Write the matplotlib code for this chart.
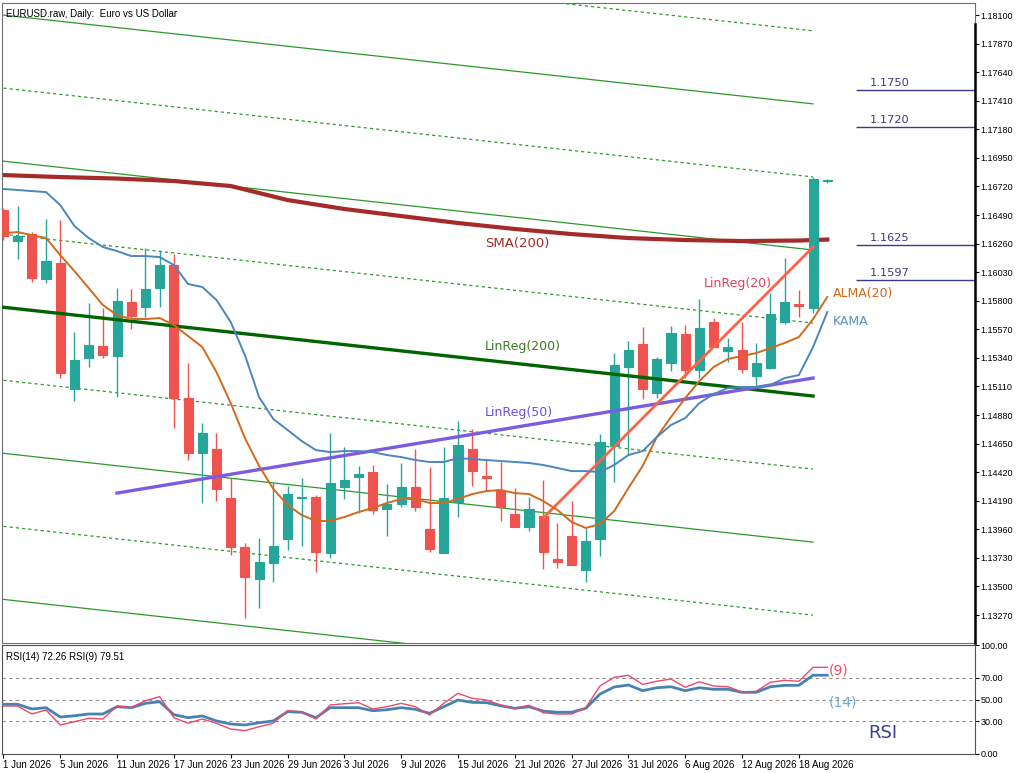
import matplotlib
matplotlib.use('Agg')
import matplotlib.pyplot as plt
import numpy as np

# 日线 OHLC (1 Jun 2026 - 20 Aug 2026)
opens = [1.16531, 1.16281, 1.16337, 1.15975, 1.16104, 1.15090, 1.15339, 1.15436, 1.15355, 1.15790,
         1.15750, 1.15903, 1.16088, 1.15017, 1.14574, 1.14607, 1.14212, 1.13818, 1.13560, 1.13689,
         1.13882, 1.14212, 1.14220, 1.13769, 1.14301, 1.14381, 1.14421, 1.14124, 1.14164, 1.14301,
         1.13963, 1.13769, 1.14180, 1.14607, 1.14389, 1.14277, 1.14083, 1.13979, 1.14067, 1.13721,
         1.13906, 1.13633, 1.13882, 1.14631, 1.15267, 1.15452, 1.15057, 1.15299, 1.15532, 1.15243,
         1.15629, 1.15395, 1.15404, 1.15194, 1.15259, 1.15629, 1.15774, 1.15742, 1.16764]
highs = [1.16547, 1.16563, 1.16353, 1.16458, 1.16450, 1.15548, 1.15782, 1.15742, 1.15903, 1.15895,
         1.16225, 1.16200, 1.16176, 1.15299, 1.14816, 1.14735, 1.14373, 1.13850, 1.13890, 1.14341,
         1.14309, 1.14373, 1.14236, 1.14735, 1.14623, 1.14470, 1.14478, 1.14325, 1.14494, 1.14607,
         1.14462, 1.14623, 1.14832, 1.14768, 1.14526, 1.14502, 1.14293, 1.14220, 1.14357, 1.14011,
         1.14188, 1.13971, 1.14727, 1.15379, 1.15476, 1.15589, 1.15347, 1.15597, 1.15605, 1.15814,
         1.15661, 1.15500, 1.15629, 1.15460, 1.15862, 1.16144, 1.15887, 1.16796, 1.16780]
lows = [1.16289, 1.16136, 1.15951, 1.15943, 1.15178, 1.14993, 1.15267, 1.15339, 1.15025, 1.15573,
        1.15669, 1.15750, 1.14776, 1.14518, 1.14172, 1.14188, 1.13753, 1.13246, 1.13327, 1.13536,
        1.13794, 1.13826, 1.13616, 1.13729, 1.14204, 1.14091, 1.14083, 1.13906, 1.14140, 1.14107,
        1.13777, 1.13769, 1.14059, 1.14309, 1.14268, 1.14027, 1.13979, 1.13946, 1.13641, 1.13649,
        1.13673, 1.13536, 1.13745, 1.14341, 1.14566, 1.15009, 1.15017, 1.15234, 1.15178, 1.15178,
        1.15428, 1.15307, 1.15218, 1.15122, 1.15251, 1.15613, 1.15669, 1.15701, 1.16748]
closes = [1.16321, 1.16321, 1.15983, 1.16120, 1.15218, 1.15323, 1.15444, 1.15363, 1.15798, 1.15677,
          1.15895, 1.16088, 1.15017, 1.14574, 1.14735, 1.14285, 1.13818, 1.13576, 1.13697, 1.13826,
          1.14244, 1.14220, 1.13777, 1.14333, 1.14357, 1.14405, 1.14116, 1.14164, 1.14301, 1.14140,
          1.13802, 1.14212, 1.14639, 1.14429, 1.14373, 1.14140, 1.13979, 1.14124, 1.13777, 1.13697,
          1.13673, 1.13866, 1.14663, 1.15283, 1.15404, 1.15090, 1.15331, 1.15540, 1.15243, 1.15581,
          1.15428, 1.15428, 1.15251, 1.15299, 1.15693, 1.15790, 1.15758, 1.16780, 1.16772]

# 指标
sma_bars = [0, 4, 8, 12, 16, 20, 24, 28, 32, 36, 40, 44, 48, 52, 56, 58]
sma200 = [1.16812, 1.16796, 1.16784, 1.16764, 1.16724, 1.16611, 1.16539, 1.16482, 1.16426, 1.16378,
          1.16337, 1.16305, 1.16289, 1.16281, 1.16285, 1.16293]
kama = [1.16700, 1.16692, 1.16683, 1.16675, 1.16571, 1.16402, 1.16305, 1.16233, 1.16200, 1.16160,
        1.16160, 1.16152, 1.16088, 1.15935, 1.15911, 1.15806, 1.15629, 1.15363, 1.15025, 1.14848,
        1.14760, 1.14671, 1.14598, 1.14582, 1.14590, 1.14590, 1.14582, 1.14558, 1.14542, 1.14518,
        1.14502, 1.14502, 1.14534, 1.14526, 1.14518, 1.14510, 1.14502, 1.14494, 1.14478, 1.14454,
        1.14429, 1.14429, 1.14421, 1.14478, 1.14558, 1.14590, 1.14703, 1.14800, 1.14856, 1.14977,
        1.15049, 1.15098, 1.15106, 1.15106, 1.15122, 1.15178, 1.15202, 1.15428, 1.15709]
alma20 = [1.16345, 1.16353, 1.16329, 1.16305, 1.16168, 1.16039, 1.15903, 1.15766, 1.15685, 1.15653,
          1.15653, 1.15661, 1.15605, 1.15516, 1.15428, 1.15226, 1.14977, 1.14695, 1.14470, 1.14285,
          1.14156, 1.14075, 1.14027, 1.14027, 1.14059, 1.14099, 1.14132, 1.14172, 1.14204, 1.14204,
          1.14172, 1.14172, 1.14204, 1.14244, 1.14268, 1.14277, 1.14252, 1.14244, 1.14188, 1.14116,
          1.14019, 1.13971, 1.14003, 1.14107, 1.14293, 1.14470, 1.14703, 1.14864, 1.15017, 1.15154,
          1.15267, 1.15331, 1.15355, 1.15379, 1.15420, 1.15460, 1.15508, 1.15653, 1.15830]

# 回归线端点 (bar, price)
linreg200_ends = [(0, 1.15748), (57, 1.15033)]
channel_step = 0.00588
linreg50_ends = [(8, 1.14252), (57, 1.15178)]
linreg20_ends = [(38, 1.14051), (57, 1.16233)]

levels = [1.1750, 1.1720, 1.1625, 1.1597]

rsi14 = [45.6, 45.6, 41.3, 42.5, 33.9, 35.1, 36.7, 36.7, 43.4, 42.5,
         46.5, 48.0, 36.1, 33.3, 34.9, 30.3, 27.5, 26.6, 28.7, 30.3,
         38.8, 38.3, 33.3, 42.5, 42.5, 42.5, 39.7, 40.6, 42.5, 41.0,
         37.3, 43.4, 49.5, 47.4, 47.1, 44.3, 41.9, 43.4, 39.4, 38.3,
         38.3, 41.9, 55.0, 61.5, 63.3, 58.1, 60.8, 61.7, 58.1, 60.8,
         59.4, 59.4, 56.6, 56.6, 61.7, 63.0, 63.0, 72.3, 72.26]
rsi9 = [44.0, 44.0, 36.7, 40.4, 26.6, 29.6, 32.8, 32.1, 44.0, 42.8,
        48.9, 52.6, 33.3, 28.2, 32.1, 28.2, 22.9, 21.4, 25.0, 28.2,
        39.7, 38.8, 32.1, 45.0, 46.1, 47.1, 41.3, 43.4, 46.5, 43.4,
        35.8, 46.5, 55.7, 51.1, 49.5, 45.0, 41.9, 44.7, 37.9, 36.7,
        36.7, 42.5, 62.4, 70.4, 72.2, 63.9, 66.7, 68.8, 61.2, 66.3,
        62.4, 61.7, 56.9, 57.5, 65.8, 67.6, 66.7, 79.5, 79.51]

date_ticks = [0, 4, 8, 12, 16, 20, 24, 28, 32, 36, 40, 44, 48, 52, 56]
date_labels = ['1 Jun 2026', '5 Jun 2026', '11 Jun 2026', '17 Jun 2026', '23 Jun 2026',
               '29 Jun 2026', '3 Jul 2026', '9 Jul 2026', '15 Jul 2026', '21 Jul 2026',
               '27 Jul 2026', '31 Jul 2026', '6 Aug 2026', '12 Aug 2026', '18 Aug 2026']
price_ticks = [1.13270, 1.13500, 1.13730, 1.13960, 1.14190, 1.14420, 1.14650, 1.14880, 1.15110,
               1.15340, 1.15570, 1.15800, 1.16030, 1.16260, 1.16490, 1.16720, 1.16950, 1.17180,
               1.17410, 1.17640, 1.17870, 1.18100]

UP = '#26a69a'
DOWN = '#ef5350'
NUMFONT = 'Liberation Sans'

fig = plt.figure(figsize=(10.24, 7.73), dpi=100)
ax = fig.add_axes([0.00195, 0.16818, 0.9502, 0.8279])
ax2 = fig.add_axes([0.00195, 0.02458, 0.9502, 0.1410])

x = np.arange(len(opens))
o = np.array(opens); h = np.array(highs); l = np.array(lows); c = np.array(closes)
cols = [UP if c[i] >= o[i] else DOWN for i in range(len(x))]

# 通道线
xs = [p[0] for p in linreg200_ends]
ys = np.array([p[1] for p in linreg200_ends])
for k in range(-5, 6):
    if k == 0:
        continue
    ls = '-' if k % 2 == 0 else (0, (2.5, 2.5))
    ax.plot(xs, ys - k * channel_step, color='#2a9a2a', lw=0.9, ls=ls, zorder=1)

ax.plot(sma_bars, sma200, color='#a52a2a', lw=3, zorder=2)

# K线
ax.vlines(x, l, h, colors=cols, lw=1, zorder=3)
ax.bar(x, np.abs(c - o), bottom=np.minimum(o, c), width=0.64, color=cols,
       edgecolor=cols, linewidth=0.8, zorder=4)

ax.plot(xs, ys, color='#006400', lw=2.4, zorder=5)
ax.plot([p[0] for p in linreg50_ends], [p[1] for p in linreg50_ends], color='#7b5ce0', lw=2.4, zorder=5)
ax.plot([p[0] for p in linreg20_ends], [p[1] for p in linreg20_ends], color='#ff6347', lw=2, zorder=6)
ax.plot(x, alma20, color='#d2691e', lw=1.4, zorder=6)
ax.plot(x, kama, color='#4a86c0', lw=1.4, zorder=6)

for lv in levels:
    ax.hlines(lv, 60, 68.5, colors='#3a3a8a', lw=1, zorder=5)
    ax.text(61.0, lv + 0.00012, '%.4f' % lv, color='#3a3a8a', fontsize=8.2, va='bottom', ha='left')

ax.text(33.9, 1.16265, 'SMA(200)', color='#a52a2a', fontsize=9.5, va='center')
ax.text(33.9, 1.15428, 'LinReg(200)', color='#3c7a1e', fontsize=9, va='center')
ax.text(33.9, 1.14897, 'LinReg(50)', color='#6a4fd8', fontsize=9, va='center')
ax.text(49.3, 1.15943, 'LinReg(20)', color='#e8405a', fontsize=9, va='center')
ax.text(58.4, 1.15862, 'ALMA(20)', color='#d2691e', fontsize=9, va='center')
ax.text(58.4, 1.15637, 'KAMA', color='#5b8fc7', fontsize=9, va='center')
ax.text(0.004, 0.99, 'EURUSD.raw, Daily:  Euro vs US Dollar', transform=ax.transAxes,
        fontsize=7, family=NUMFONT, va='top', ha='left')

ax.set_xlim(-0.1, 68.4)
ax.set_ylim(1.13045, 1.18197)
ax.yaxis.tick_right()
ax.set_yticks(price_ticks)
ax.set_yticklabels(['%.5f' % p for p in price_ticks], family=NUMFONT)
ax.tick_params(axis='y', labelsize=6.5, length=3, pad=1, width=0.8)
ax.set_xticks([])
for s in ax.spines.values():
    s.set_color('#707070'); s.set_linewidth(0.8)
# 右侧粗线
ax.plot([1, 1], [0, 0.967], transform=ax.transAxes, color='black', lw=1.8, clip_on=False, zorder=10)

# RSI 面板
for lv in [30, 50, 70]:
    ax2.axhline(lv, color='#909090', lw=0.8, ls=(0, (3, 3)))
ax2.plot(x, rsi14, color='#4682b4', lw=2, zorder=3)
ax2.plot(x, rsi9, color='#ec4a6a', lw=1, zorder=4)
ax2.text(58.1, 77, '(9)', color='#ec4a6a', fontsize=10, va='center')
ax2.text(58.1, 46.8, '(14)', color='#6aa6dc', fontsize=10, va='center')
ax2.text(60.9, 19.3, 'RSI', color='#3b3b9b', fontsize=13, va='center')
ax2.text(0.004, 0.94, 'RSI(14) %.2f RSI(9) %.2f' % (rsi14[-1], rsi9[-1]), transform=ax2.transAxes,
         fontsize=7, family=NUMFONT, va='top', ha='left')
ax2.set_xlim(-0.1, 68.4)
ax2.set_ylim(0, 100)
ax2.yaxis.tick_right()
ax2.set_yticks([0, 30, 50, 70, 100])
ax2.set_yticklabels(['0.00', '30.00', '50.00', '70.00', '100.00'], family=NUMFONT)
ax2.tick_params(axis='y', labelsize=6.5, length=3, pad=1, width=0.8)
ax2.set_xticks(date_ticks)
ax2.set_xticklabels(date_labels, family=NUMFONT, ha='left')
ax2.tick_params(axis='x', labelsize=7, length=3, pad=1, width=0.8)
for s in ax2.spines.values():
    s.set_color('#505050'); s.set_linewidth(0.8)

fig.savefig('out.png', dpi=100)
